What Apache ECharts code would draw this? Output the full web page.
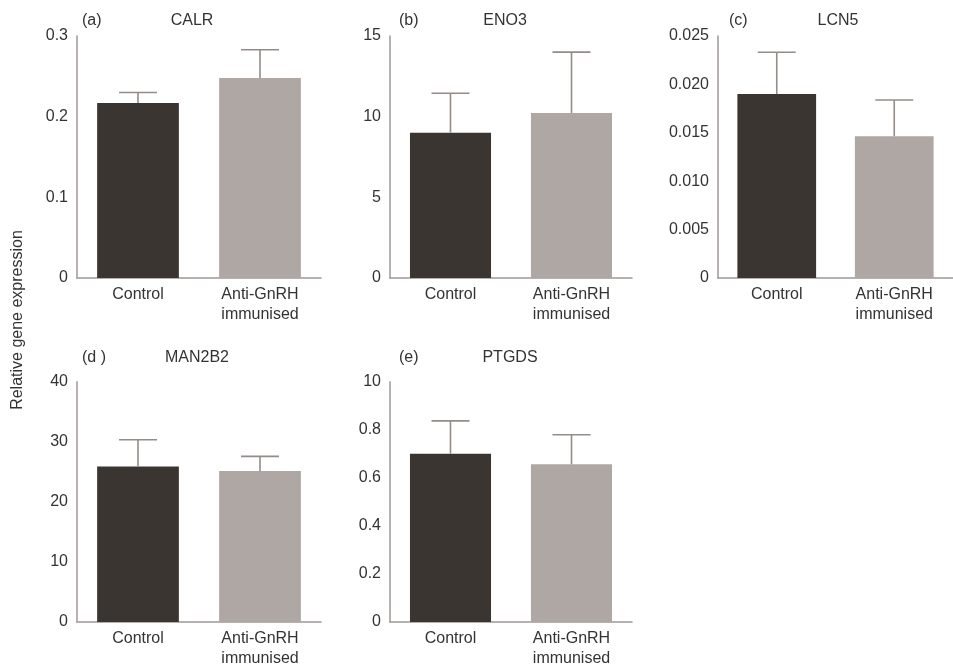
<!DOCTYPE html>
<html>
<head>
<meta charset="utf-8">
<script src="https://cdn.jsdelivr.net/npm/echarts@6/dist/echarts.min.js"></script>
<style>
html,body{margin:0;padding:0;background:#fff;}
#chart{width:953px;height:669px;}
</style>
</head>
<body>
<div id="chart"></div>
<script>
// ---- data ----
const categories = ['Control', 'Anti-GnRH\nimmunised'];
const panelLetters = ['(a)', '(b)', '(c)', '(d )', '(e)'];
const genes = ['CALR', 'ENO3', 'LCN5', 'MAN2B2', 'PTGDS'];
const calrMean = [0.217, 0.248];
const calrUpper = [0.230, 0.283];
const eno3Mean = [9.01, 10.23];
const eno3Upper = [11.45, 14.0];
const lcn5Mean = [0.0190, 0.01465];
const lcn5Upper = [0.02332, 0.01839];
const man2b2Mean = [25.87, 25.15];
const man2b2Upper = [30.33, 27.57];
const ptgdsMean = [0.700, 0.656];
const ptgdsUpper = [0.837, 0.779];
const calrTicks = ['0', '0.1', '0.2', '0.3'];
const eno3Ticks = ['0', '5', '10', '15'];
const lcn5Ticks = ['0', '0.005', '0.010', '0.015', '0.020', '0.025'];
const man2b2Ticks = ['0', '10', '20', '30', '40'];
const ptgdsTicks = ['0', '0.2', '0.4', '0.6', '0.8', '10'];
const axisMax = [0.3, 15, 0.025, 40, 1.0];
const axisInterval = [0.1, 5, 0.005, 10, 0.2];

const means = [calrMean, eno3Mean, lcn5Mean, man2b2Mean, ptgdsMean];
const uppers = [calrUpper, eno3Upper, lcn5Upper, man2b2Upper, ptgdsUpper];
const ticks = [calrTicks, eno3Ticks, lcn5Ticks, man2b2Ticks, ptgdsTicks];

// ---- layout / style ----
const grids = [
  {left: 77, top: 36, width: 244, height: 242},
  {left: 390, top: 36, width: 242, height: 242},
  {left: 718, top: 36, width: 250, height: 242},
  {left: 77, top: 381.7, width: 244, height: 241.6},
  {left: 390, top: 381.7, width: 242, height: 241.6}
];
const letterPos = [[82, 21], [399, 21], [729, 21], [82, 358], [399, 358]];
const genePos = [[192, 21], [505, 21], [838, 21], [197, 358], [510, 358]];
const barColors = ['#3b3532', '#aea7a3'];
const axisColor = '#9f9894';
const errColor = '#948c88';
const textColor = '#333333';
const fontFamily = 'Liberation Sans, Arial, Helvetica, sans-serif';

const chart = echarts.init(document.getElementById('chart'));

const xAxes = [], yAxes = [], series = [], graphics = [];
grids.forEach((g, i) => {
  xAxes.push({
    type: 'category', gridIndex: i, data: categories,
    axisLine: {show: true, lineStyle: {color: axisColor, width: 1.5}},
    axisTick: {show: false},
    axisLabel: {color: textColor, fontSize: 16, fontFamily, margin: 7, lineHeight: 20, interval: 0}
  });
  const tk = ticks[i], iv = axisInterval[i];
  yAxes.push({
    type: 'value', gridIndex: i, min: 0, max: axisMax[i], interval: iv,
    splitLine: {show: false},
    axisLine: {show: true, lineStyle: {color: axisColor, width: 1.5}},
    axisTick: {show: false},
    axisLabel: {
      color: textColor, fontSize: 16, fontFamily, margin: 9,
      formatter: (v) => { const k = Math.round(v / iv); return tk[k] !== undefined ? tk[k] : String(v); }
    }
  });
  series.push({
    type: 'bar', xAxisIndex: i, yAxisIndex: i, barWidth: '67%',
    data: means[i].map((v, j) => ({value: v, itemStyle: {color: barColors[j]}})),
    silent: true, z: 2
  });
  series.push({
    type: 'custom', xAxisIndex: i, yAxisIndex: i, z: 3, silent: true,
    data: means[i].map((v, j) => [j, v, uppers[i][j]]),
    encode: {x: 0, y: [1, 2]},
    renderItem: (params, api) => {
      const x = api.value(0);
      const p0 = api.coord([x, api.value(1)]);
      const p1 = api.coord([x, api.value(2)]);
      const hw = 19;
      const st = {stroke: errColor, lineWidth: 1.6};
      return {type: 'group', children: [
        {type: 'line', shape: {x1: p0[0], y1: p0[1], x2: p1[0], y2: p1[1]}, style: st},
        {type: 'line', shape: {x1: p1[0] - hw, y1: p1[1], x2: p1[0] + hw, y2: p1[1]}, style: st}
      ]};
    }
  });
  graphics.push({type: 'text', x: letterPos[i][0], y: letterPos[i][1],
    style: {text: panelLetters[i], fill: textColor, font: '16px ' + fontFamily, textAlign: 'left', textVerticalAlign: 'middle'}});
  graphics.push({type: 'text', x: genePos[i][0], y: genePos[i][1],
    style: {text: genes[i], fill: textColor, font: '16px ' + fontFamily, textAlign: 'center', textVerticalAlign: 'middle'}});
});
graphics.push({type: 'text', x: 18, y: 320, rotation: Math.PI / 2,
  style: {text: 'Relative gene expression', fill: textColor, font: '16px ' + fontFamily, textAlign: 'center', textVerticalAlign: 'middle'}});

chart.setOption({
  animation: false,
  backgroundColor: '#ffffff',
  grid: grids.map(g => Object.assign({containLabel: false}, g)),
  xAxis: xAxes,
  yAxis: yAxes,
  series: series,
  graphic: graphics
});
</script>
</body>
</html>
